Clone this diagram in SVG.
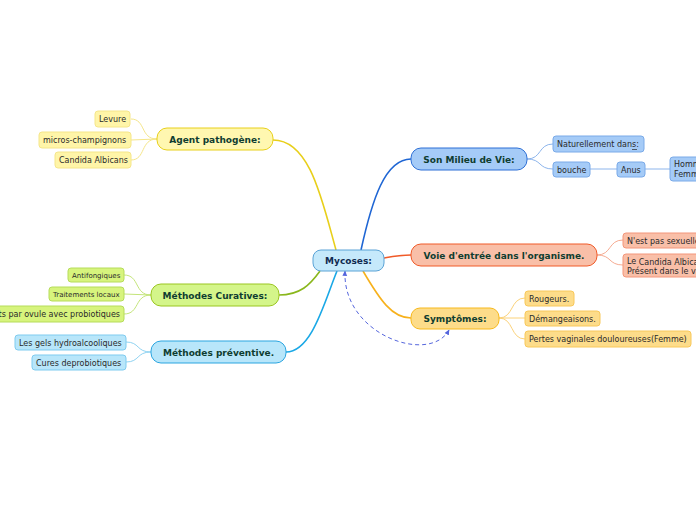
<svg xmlns="http://www.w3.org/2000/svg" width="696" height="520" viewBox="0 0 696 520">
<defs>
<style>
text{font-family:"DejaVu Sans",Verdana,sans-serif;}
.main{font-size:9px;font-weight:bold;fill:#0f3d30;text-anchor:middle;}
.sub{font-size:8px;fill:#2a2a2a;}
.sm{font-size:7px;fill:#2a2a2a;}
.c{fill:none;stroke-width:1.6;}
.s{fill:none;stroke-width:1;}
</style>
<marker id="arr" viewBox="0 0 10 10" refX="8" refY="5" markerWidth="6" markerHeight="6" orient="auto-start-reverse">
<path d="M0,1 L9,5 L0,9 Z" fill="#5566dd"/>
</marker>
</defs>
<rect width="696" height="520" fill="#ffffff"/>
<g id="connectors">
<path class="c" stroke="#e8cf1a" d="M273,140 C310,140 322,200 336,250"/>
<path class="c" stroke="#1f66d4" d="M411,159 C385,159 372,200 361,250"/>
<path class="c" stroke="#f05a28" d="M384,258 C395,256 400,255 411,255"/>
<path class="c" stroke="#f7b11c" d="M363,271 C380,300 392,318 411,318"/>
<path class="c" stroke="#8ab71c" d="M279,295 C300,295 310,285 320,271"/>
<path class="c" stroke="#1aa8e6" d="M286,352 C312,352 325,300 337,271"/>
<path fill="none" stroke="#5566dd" stroke-width="1" stroke-dasharray="4,3" marker-start="url(#arr)" marker-end="url(#arr)" d="M345,271 C342,335 430,365 449,330"/>
<g stroke="#f5e68a">
<path class="s" d="M157,139 C140,139 146,119 131,119"/>
<path class="s" d="M157,139 L131,140"/>
<path class="s" d="M157,139 C140,139 146,160 131,160"/>
</g>
<g stroke="#c4e57a">
<path class="s" d="M151,295 C134,295 140,275 124,275"/>
<path class="s" d="M151,295 L124,294"/>
<path class="s" d="M151,295 C134,295 140,314 124,314"/>
</g>
<g stroke="#8fd3f2">
<path class="s" d="M151,352 C136,352 140,342 126,342"/>
<path class="s" d="M151,352 C136,352 140,362 126,362"/>
</g>
<g stroke="#8db5ec">
<path class="s" d="M527,159 C542,159 538,144 553,144"/>
<path class="s" d="M527,159 C542,159 538,169 553,169"/>
<path class="s" d="M590,169 L617,169"/>
<path class="s" d="M645,169 L670,169"/>
</g>
<g stroke="#f6ab92">
<path class="s" d="M597,255 C612,255 608,240 623,240"/>
<path class="s" d="M597,255 C612,255 608,265 623,265"/>
</g>
<g stroke="#fbd27a">
<path class="s" d="M499,318 C514,318 510,298 525,298"/>
<path class="s" d="M499,318 L525,318"/>
<path class="s" d="M499,318 C514,318 510,339 525,339"/>
</g>
</g>
<g id="mycoses">
<rect x="313" y="250" width="71" height="21" rx="8" fill="#c5e9fb" stroke="#5ba3d6"/>
<text class="main" x="348.5" y="264" style="fill:#102a50">Mycoses:</text>
</g>
<g id="agent">
<rect x="157" y="128" width="116" height="22" rx="10" fill="#fff7b0" stroke="#e8d01a"/>
<text class="main" x="215" y="142.5">Agent pathogène:</text>
</g>
<g id="levure"><rect x="95" y="111" width="35" height="16" rx="3" fill="#fff5a8" stroke="#f5e68a"/><text class="sub" x="99" y="122">Levure</text></g>
<g id="micros"><rect x="39" y="132" width="92" height="16" rx="3" fill="#fff5a8" stroke="#f5e68a"/><text class="sub" x="43" y="143">micros-champignons</text></g>
<g id="candida"><rect x="55" y="152" width="76" height="16" rx="3" fill="#fff5a8" stroke="#f5e68a"/><text class="sub" x="59" y="163">Candida Albicans</text></g>
<g id="curatives">
<rect x="151" y="284" width="128" height="22" rx="10" fill="#d4f58a" stroke="#9ac620"/>
<text class="main" x="215" y="298.5">Méthodes Curatives:</text>
</g>
<g id="antifong"><rect x="68" y="268" width="56" height="14" rx="3" fill="#d7f47d" stroke="#b6dc5a"/><text class="sm" x="72" y="277.5">Antifongiques</text></g>
<g id="traitements"><rect x="49" y="287" width="75" height="14" rx="3" fill="#d7f47d" stroke="#b6dc5a"/><text class="sm" x="53" y="296.5">Traitements locaux</text></g>
<g id="ovule"><rect x="-10" y="306" width="134" height="16" rx="3" fill="#d7f47d" stroke="#b6dc5a"/><text class="sub" x="120" y="317" text-anchor="end">Traitements par ovule avec probiotiques</text></g>
<g id="preventive">
<rect x="151" y="341" width="135" height="22" rx="10" fill="#b8e6fa" stroke="#2aa5e0"/>
<text class="main" x="218.5" y="355.5">Méthodes préventive.</text>
</g>
<g id="gels"><rect x="15" y="335" width="111" height="15" rx="3" fill="#b8e6fa" stroke="#7fcbef"/><text class="sub" x="19" y="345.5">Les gels hydroalcooliques</text></g>
<g id="cures"><rect x="32" y="355" width="94" height="15" rx="3" fill="#b8e6fa" stroke="#7fcbef"/><text class="sub" x="36" y="365.5">Cures deprobiotiques</text></g>
<g id="milieu">
<rect x="411" y="148" width="116" height="22" rx="10" fill="#a5cbf7" stroke="#2d6fd6"/>
<text class="main" x="469" y="162.5">Son Milieu de Vie:</text>
</g>
<g id="naturellement"><rect x="553" y="136" width="91" height="16" rx="3" fill="#a5cbf7" stroke="#7aaae8"/><text class="sub" x="557" y="147">Naturellement dans:</text><line x1="632" y1="149.5" x2="637" y2="149.5" stroke="#2a2a2a" stroke-width="0.7"/></g>
<g id="bouche"><rect x="553" y="162" width="37" height="15" rx="3" fill="#a5cbf7" stroke="#7aaae8"/><text class="sub" x="557" y="172.5">bouche</text></g>
<g id="anus"><rect x="617" y="162" width="28" height="15" rx="3" fill="#a5cbf7" stroke="#7aaae8"/><text class="sub" x="621" y="172.5">Anus</text></g>
<g id="hommes"><rect x="670" y="157" width="60" height="24" rx="3" fill="#a5cbf7" stroke="#7aaae8"/><text class="sub" x="674" y="167">Hommes</text><text class="sub" x="674" y="177">Femmes</text></g>
<g id="voie">
<rect x="411" y="244" width="186" height="22" rx="10" fill="#f9bfa8" stroke="#f05a28"/>
<text class="main" x="504" y="258.5">Voie d'entrée dans l'organisme.</text>
</g>
<g id="sexuel"><rect x="623" y="233" width="120" height="15" rx="3" fill="#f9bfa8" stroke="#f3967a"/><text class="sub" x="627" y="243.5">N'est pas sexuellement transmissible.</text></g>
<g id="lecandida"><rect x="623" y="254" width="120" height="23" rx="3" fill="#f9bfa8" stroke="#f3967a"/><text class="sub" x="627" y="263.5">Le <tspan dy="1">Candida Albicans</tspan></text><text class="sub" x="627" y="273.5">Présent dans le vagin.</text></g>
<g id="symptomes">
<rect x="411" y="308" width="88" height="21" rx="9" fill="#fddc8a" stroke="#f7b91c"/>
<text class="main" x="455" y="322">Symptômes:</text>
</g>
<g id="rougeurs"><rect x="525" y="291" width="49" height="15" rx="3" fill="#fddc8a" stroke="#f8c85a"/><text class="sub" x="529" y="301.5">Rougeurs.</text></g>
<g id="demang"><rect x="525" y="311" width="75" height="15" rx="3" fill="#fddc8a" stroke="#f8c85a"/><text class="sub" x="529" y="321.5">Démangeaisons.</text></g>
<g id="pertes"><rect x="525" y="331" width="166" height="16" rx="3" fill="#fddc8a" stroke="#f8c85a"/><text class="sub" x="529" y="342">Pertes vaginales douloureuses(Femme)</text></g>
</svg>
